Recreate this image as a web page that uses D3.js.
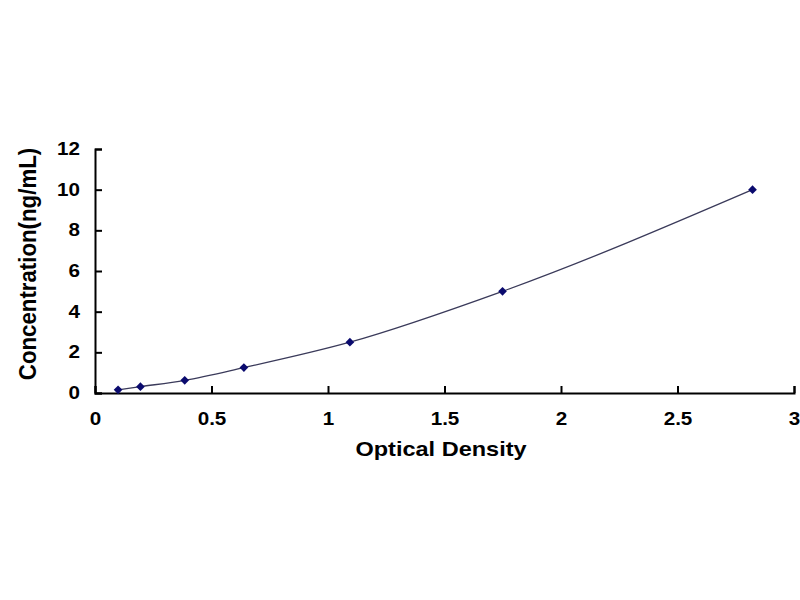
<!DOCTYPE html>
<html><head><meta charset="utf-8">
<script src="https://cdn.jsdelivr.net/npm/d3@7"></script>
<style>body{margin:0;background:#fff}svg{display:block}</style>
</head><body>
<svg id="c" width="800" height="600"></svg>
<script>
const od = [0.099, 0.195, 0.385, 0.639, 1.094, 1.749, 2.822];
const conc = [0.156, 0.312, 0.625, 1.25, 2.5, 5, 10];
const xTicks = [0, 0.5, 1, 1.5, 2, 2.5, 3];
const yTicks = [0, 2, 4, 6, 8, 10, 12];

const svg = d3.select("#c");
const L = 95, R = 794, T = 149, B = 393;
const x = d3.scaleLinear().domain([0, 3]).range([L, R]);
const y = d3.scaleLinear().domain([0, 12]).range([B, T]);
const font = "'Liberation Sans', Arial, sans-serif";
const SX = 1.18;

const xa = svg.append("g").attr("transform", `translate(0,${B})`)
  .call(d3.axisBottom(x).tickValues(xTicks).tickSize(-7).tickPadding(20).tickFormat(d => String(d)));
const ya = svg.append("g").attr("transform", `translate(${L},0)`)
  .call(d3.axisLeft(y).tickValues(yTicks).tickSize(-7).tickPadding(15).tickFormat(d => String(d)));
[xa, ya].forEach(a => {
  a.select(".domain").attr("stroke", "#000").attr("stroke-width", 2);
  a.selectAll(".tick line").attr("stroke", "#000").attr("stroke-width", 2);
  a.selectAll(".tick text").attr("fill", "#000").style("font-family", font)
    .style("font-weight", "bold").style("font-size", "17.5px");
});
xa.selectAll(".tick text").attr("transform", `scale(${SX},1)`);
ya.selectAll(".tick text").attr("x", -15 / SX).attr("transform", `scale(${SX},1)`);

const pts = od.map((d, i) => [d, conc[i]]);
svg.append("path").datum(pts)
  .attr("fill", "none").attr("stroke", "#3a3a5a").attr("stroke-width", 1.3)
  .attr("d", d3.line().x(d => x(d[0])).y(d => y(d[1])).curve(d3.curveMonotoneX));

svg.append("g").selectAll("path").data(pts).join("path")
  .attr("transform", d => `translate(${x(d[0])},${y(d[1])})`)
  .attr("d", d3.symbol(d3.symbolDiamond2, 48))
  .attr("fill", "#0a0a6e");

svg.append("text").attr("transform", "translate(441,456) scale(1.12,1)").attr("text-anchor", "middle")
  .style("font-family", font).style("font-weight", "bold").style("font-size", "21px")
  .text("Optical Density");
svg.append("text").attr("transform", "translate(36,264) rotate(-90) scale(1.06,1.1)").attr("text-anchor", "middle")
  .style("font-family", font).style("font-weight", "bold").style("font-size", "21px")
  .text("Concentration(ng/mL)");
</script>
</body></html>
